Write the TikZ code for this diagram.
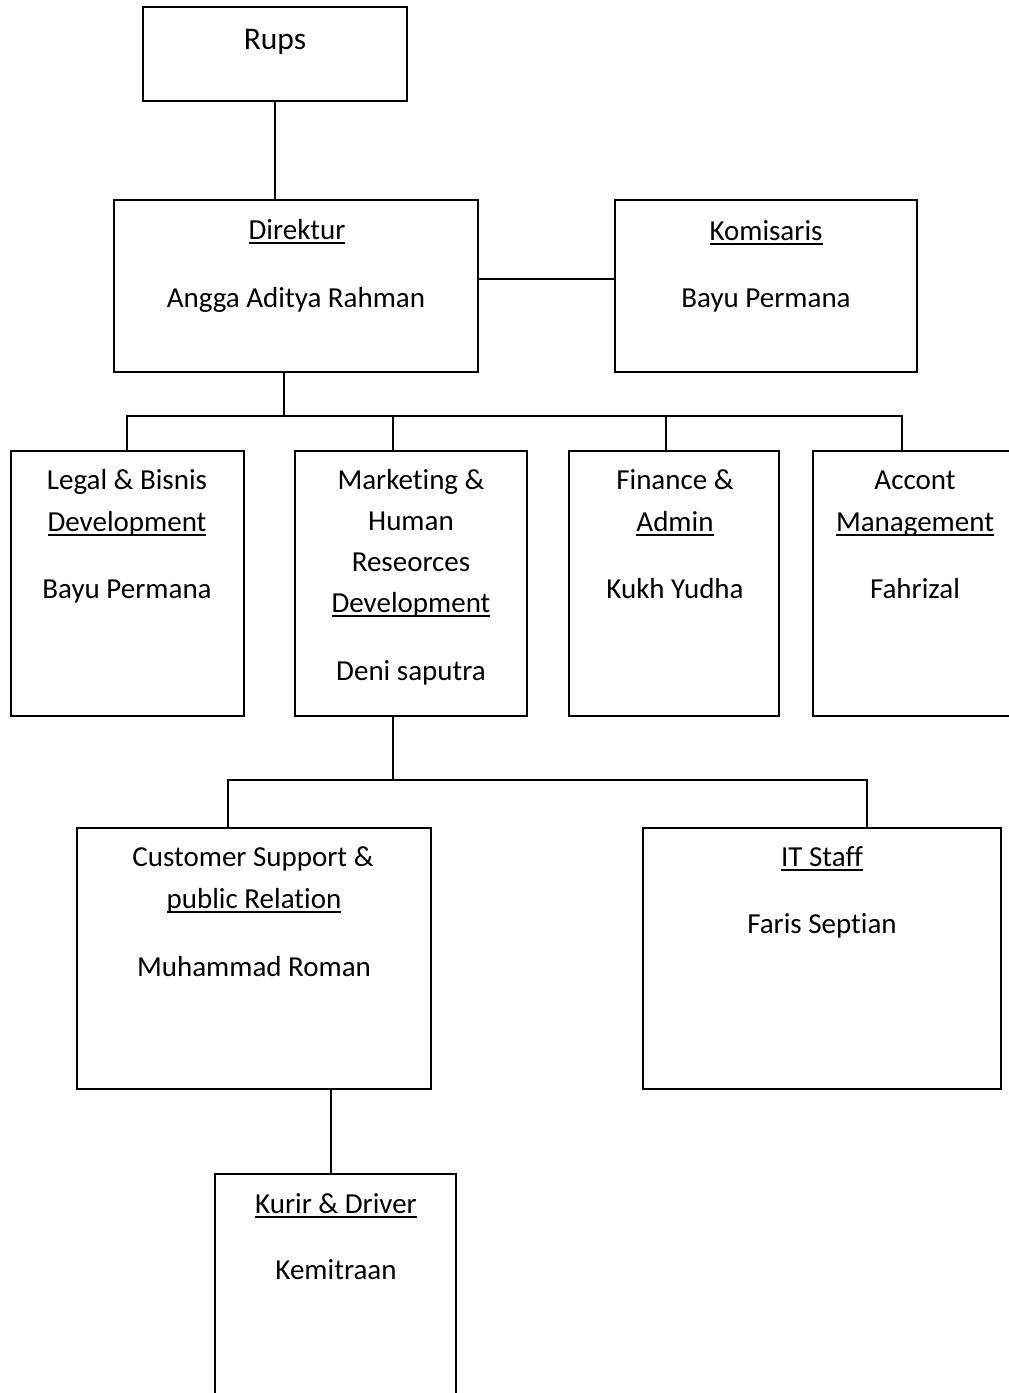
\documentclass[tikz,border=0pt]{standalone}
\usepackage{fontspec}
\setmainfont[Ligatures=NoCommon]{Carlito}
\newcommand\ulx[1]{\setbox0\hbox{#1}\rlap{\rule[-5pt]{\wd0}{1.7pt}}\box0}
\begin{document}
\begin{tikzpicture}[x=1pt,y=-1pt,
  box/.style={draw, line width=1.7pt, inner sep=0pt, outer sep=0pt, anchor=north west},
  txt/.style={font=\fontsize{29}{35}\selectfont, inner sep=0pt, anchor=base},
  conn/.style={line width=1.7pt}]
\useasboundingbox (0,0) rectangle (1009,1393);
\fill[white] (0,0) rectangle (1009,1393);
\clip (0,0) rectangle (1009,1393);
% boxes
\node[box, minimum width=264pt, minimum height=94pt] (rups) at (143,7) {};
\node[box, minimum width=364pt, minimum height=172pt] (dir) at (114,200) {};
\node[box, minimum width=302pt, minimum height=172pt] (kom) at (615,200) {};
\node[box, minimum width=233pt, minimum height=265pt] (legal) at (11,451) {};
\node[box, minimum width=232pt, minimum height=265pt] (mkt) at (295,451) {};
\node[box, minimum width=210pt, minimum height=265pt] (fin) at (569,451) {};
\node[box, minimum width=220pt, minimum height=265pt] (acc) at (813,451) {};
\node[box, minimum width=354pt, minimum height=261pt] (cs) at (77,828) {};
\node[box, minimum width=358pt, minimum height=261pt] (it) at (643,828) {};
\node[box, minimum width=241pt, minimum height=260pt] (kurir) at (215,1174) {};
% texts
\node[txt, font=\fontsize{31.5}{36}\selectfont] (tRups) at (275,49) {Rups};
\node[txt] (tDir1) at (297,239) {\ulx{Direktur}};
\node[txt] (tDir2) at (296,307) {Angga Aditya Rahman};
\node[txt] (tKom1) at (766,240) {\ulx{Komisaris}};
\node[txt] (tKom2) at (766,307) {Bayu Permana};
\node[txt] (tLeg1) at (127,489) {Legal \& Bisnis};
\node[txt] (tLeg2) at (127,531) {\ulx{Development}};
\node[txt] (tLeg3) at (127,598) {Bayu Permana};
\node[txt] (tMkt1) at (411,489) {Marketing \&};
\node[txt] (tMkt2) at (411,530) {Human};
\node[txt] (tMkt3) at (411,571) {Reseorces};
\node[txt] (tMkt4) at (411,612) {\ulx{Development}};
\node[txt] (tMkt5) at (411,680) {Deni saputra};
\node[txt] (tFin1) at (675,489) {Finance \&};
\node[txt] (tFin2) at (675,531) {\ulx{Admin}};
\node[txt] (tFin3) at (675,598) {Kukh Yudha};
\node[txt] (tAcc1) at (915,489) {Accont};
\node[txt] (tAcc2) at (915,531) {\ulx{Management}};
\node[txt] (tAcc3) at (915,598) {Fahrizal};
\node[txt] (tCs1) at (253,866) {Customer Support \&};
\node[txt] (tCs2) at (254,908) {\ulx{public Relation}};
\node[txt] (tCs3) at (254,976) {Muhammad Roman};
\node[txt] (tIt1) at (822,866) {\ulx{IT Staff}};
\node[txt] (tIt2) at (822,933) {Faris Septian};
\node[txt] (tKu1) at (336,1213) {\ulx{Kurir \& Driver}};
\node[txt] (tKu2) at (336,1279) {Kemitraan};
% connector coordinates
\coordinate (bus) at (284,416);
\coordinate (dL) at (127,416);
\coordinate (dM) at (393,416);
\coordinate (dF) at (666,416);
\coordinate (dA) at (902,416);
\coordinate (sub) at (393,780);
\coordinate (sL) at (228,780);
\coordinate (sR) at (867,780);
\coordinate (ku) at (331,1089);
% connectors
\draw[conn] (rups.south) -- (rups.south |- dir.north);
\draw[conn] ([yshift=7pt]dir.east) -- ([yshift=7pt]dir.east -| kom.west);
\draw[conn] (bus |- dir.south) -- (bus);
\draw[conn] (dL |- legal.north) -- (dL) -- (dA) -- (dA |- acc.north);
\draw[conn] (dM) -- (dM |- mkt.north);
\draw[conn] (dF) -- (dF |- fin.north);
\draw[conn] (sub |- mkt.south) -- (sub);
\draw[conn] (sL |- cs.north) -- (sL) -- (sR) -- (sR |- it.north);
\draw[conn] (ku |- cs.south) -- (ku |- kurir.north);
\end{tikzpicture}
\end{document}
